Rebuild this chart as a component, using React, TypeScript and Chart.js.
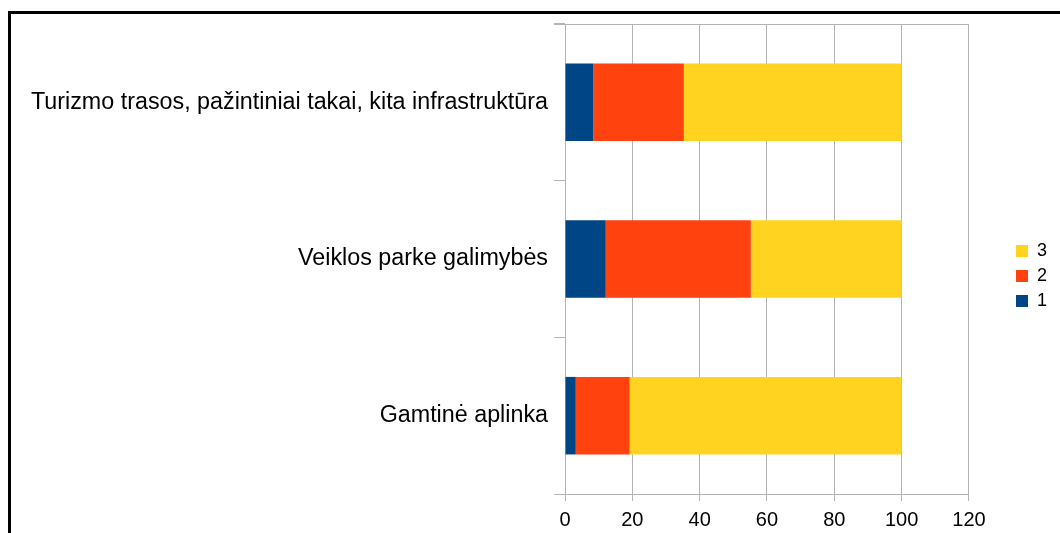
import React, { useEffect, useRef } from "react";
import { Chart, registerables } from "chart.js";

Chart.register(...registerables);

const categories = [
  "Turizmo trasos, pažintiniai takai, kita infrastruktūra",
  "Veiklos parke galimybės",
  "Gamtinė aplinka",
];
const seriesNames = ["1", "2", "3"];
const series1 = [8.4, 12.1, 3.2];
const series2 = [26.9, 43.1, 16.0];
const series3 = [64.7, 44.8, 80.8];
const seriesColors = ["#004586", "#ff420e", "#ffd320"];
const xMin = 0;
const xMax = 120;
const xStep = 20;

const GRID = "#b3b3b3";
const FONT = "'Liberation Sans', Arial, sans-serif";

const topBorder = {
  id: "topBorder",
  afterDraw(chart: any) {
    const { ctx, chartArea } = chart;
    ctx.save();
    ctx.strokeStyle = GRID;
    ctx.lineWidth = 1;
    ctx.beginPath();
    ctx.moveTo(chartArea.left - 11, Math.round(chartArea.top) + 0.5);
    ctx.lineTo(chartArea.right, Math.round(chartArea.top) + 0.5);
    ctx.stroke();
    ctx.restore();
  },
};

export default function App() {
  const ref = useRef<HTMLCanvasElement>(null);
  useEffect(() => {
    if (!ref.current) return;
    const values = [series1, series2, series3];
    const chart = new Chart(ref.current, {
      type: "bar",
      data: {
        labels: categories,
        datasets: values.map((v, i) => ({
          label: seriesNames[i],
          data: v,
          backgroundColor: seriesColors[i],
          borderWidth: 0,
          xAxisID: "x",
          yAxisID: "y",
          barPercentage: 0.495,
          categoryPercentage: 1,
        })),
      },
      options: {
        indexAxis: "y",
        responsive: false,
        animation: false,
        layout: { padding: { left: 10, right: 3, top: 24, bottom: 5 } },
        plugins: {
          legend: {
            position: "right",
            reverse: true,
            labels: {
              boxWidth: 12,
              boxHeight: 12,
              padding: 7,
              color: "#000",
              font: { family: FONT, size: 18 },
            },
          },
          tooltip: { enabled: false },
        },
        scales: {
          x: {
            type: "linear",
            stacked: true,
            min: xMin,
            max: xMax,
            ticks: {
              stepSize: xStep,
              color: "#000",
              padding: 7,
              font: { family: FONT, size: 20 },
            },
            grid: { color: GRID, tickLength: 7, lineWidth: 1 },
            border: { color: GRID },
            afterFit(scale: any) {
              scale.height = 34;
            },
          },
          y: {
            type: "category",
            stacked: true,
            ticks: {
              color: "#000",
              padding: 6,
              font: { family: FONT, size: 23.3 },
            },
            grid: {
              color: GRID,
              drawOnChartArea: false,
              tickLength: 11,
              offset: true,
            },
            border: { color: GRID },
            afterFit(scale: any) {
              scale.width = 555;
            },
          },
          pad: {
            type: "linear",
            axis: "y",
            position: "right",
            display: true,
            grid: { display: false },
            border: { display: false },
            ticks: { display: false },
            afterFit(scale: any) {
              scale.width = 40;
            },
          },
        },
      },
      plugins: [topBorder],
    } as any);
    return () => chart.destroy();
  }, []);

  return (
    <>
      <div
        style={{
          position: "absolute",
          left: 8,
          top: 11,
          width: 1052,
          height: 522,
          borderLeft: "3px solid #000",
          borderTop: "3px solid #000",
          boxSizing: "border-box",
        }}
      />
      <canvas
        ref={ref}
        width={1060}
        height={533}
        style={{ position: "absolute", left: 0, top: 0, width: 1060, height: 533 }}
      />
    </>
  );
}
